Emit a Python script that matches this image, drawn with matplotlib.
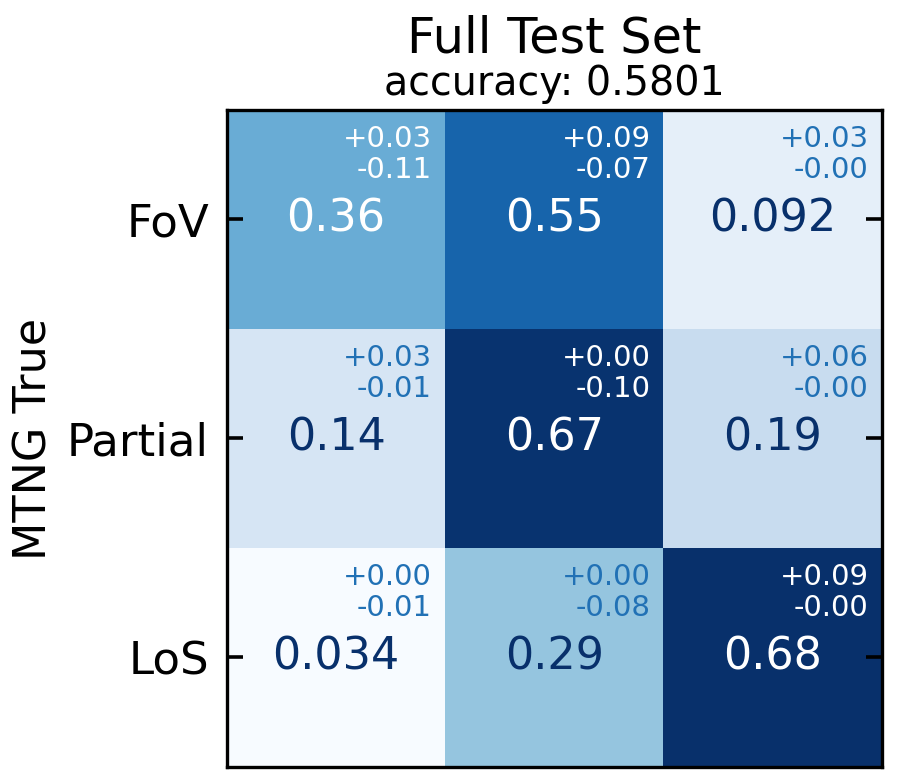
import numpy as np
import matplotlib.pyplot as plt

labels = ["FoV", "Partial", "LoS"]
cm = np.array([
    [0.36, 0.55, 0.092],
    [0.14, 0.67, 0.19],
    [0.034, 0.29, 0.68],
])
err_plus = np.array([
    [0.03, 0.09, 0.03],
    [0.03, 0.00, 0.06],
    [0.00, 0.00, 0.09],
])
err_minus = np.array([
    [0.11, 0.07, 0.00],
    [0.01, 0.10, 0.00],
    [0.01, 0.08, 0.00],
])
accuracy = 0.5801

fig = plt.figure(figsize=(8.97, 7.84), dpi=100)
ax = fig.add_axes([0.253, 0.0217, 0.730, 0.838])

cmap = plt.get_cmap("Blues")
ax.imshow(cm, cmap=cmap, vmin=cm.min(), vmax=cm.max(), aspect="auto")

thresh = (cm.max() + cm.min()) / 2
for i in range(3):
    for j in range(3):
        dark = cm[i, j] > thresh
        c_main = "white" if dark else cmap(1.0)
        c_err = "white" if dark else "#2171b5"
        ax.text(j, i, format(cm[i, j], ".2g"), ha="center", va="center",
                fontsize=32, color=c_main)
        ax.text(j + 0.44, i - 0.432, "+%.2f\n-%.2f" % (err_plus[i, j], err_minus[i, j]),
                ha="right", va="top", fontsize=21, color=c_err, linespacing=1.15)

ax.set_xticks([])
ax.set_yticks(range(3))
ax.set_yticklabels(labels)
ax.tick_params(axis="y", direction="in", left=True, right=True, length=11.5,
               width=2.6, labelsize=32.5, pad=13)
for s in ax.spines.values():
    s.set_linewidth(2.4)
ax.set_ylabel("MTNG True", fontsize=32)
ax.yaxis.set_label_coords(-0.262, 0.5)

fig.text(0.6175, 0.951, "Full Test Set", ha="center", va="center", fontsize=35.6)
fig.text(0.6175, 0.893, "accuracy: %.4f" % accuracy, ha="center", va="center", fontsize=28.5)

fig.savefig("out.png", dpi=100)
